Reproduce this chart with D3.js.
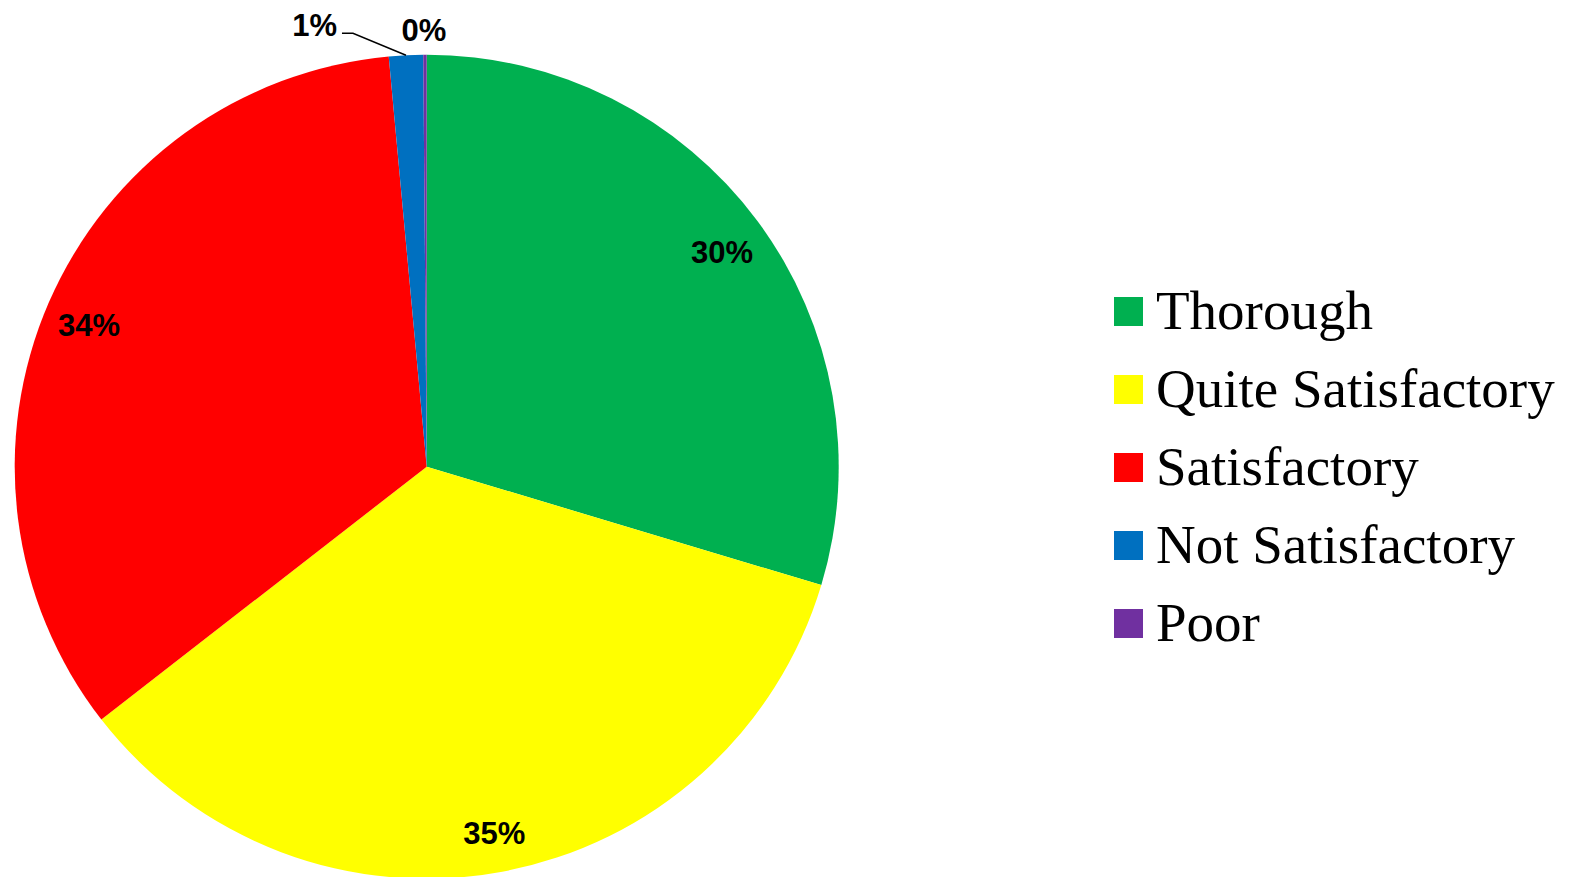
<!DOCTYPE html>
<html>
<head>
<meta charset="utf-8">
<script src="https://cdn.jsdelivr.net/npm/d3@7"></script>
<style>
  body { margin: 0; background: #fff; }
  svg { display: block; }
</style>
</head>
<body>
<svg id="chart"></svg>
<script>
/* Data */

var categories = ["Thorough", "Quite Satisfactory", "Satisfactory", "Not Satisfactory", "Poor"];
var counts     = [222, 261, 255, 10, 1];
var colours    = ["#00B050", "#FFFF00", "#FF0000", "#0070C0", "#7030A0"];

/* Measures */

var W = 1579,
    H = 877;

var CENTER       = { x: 426.7, y: 466.7 }
   ,RADIUS       = 412
   ,LABEL_RADIUS = 368
   ,LABEL_FONT   = 31
   ,LEGEND       = { left: 1114, top: 297, box: 29, lineheight: 78, textgap: 13, font: 55 };

var svg = d3.select("#chart").attr("width", W).attr("height", H);

var total = d3.sum(counts);
var slices = counts.map(function(v, i) {
	return { name: categories[i], value: v, colour: colours[i] };
});

var pie = d3.pie()
	.sort(null)
	.value(function(d) { return d.value; });

var arc = d3.arc().innerRadius(0).outerRadius(RADIUS);
var labelArc = d3.arc().innerRadius(LABEL_RADIUS).outerRadius(LABEL_RADIUS);

var g = svg.append("g")
	.attr("transform", "translate(" + CENTER.x + "," + CENTER.y + ")");

var arcs = pie(slices);

g.selectAll("path.slice")
	.data(arcs)
	.enter().append("path")
	.attr("class", "slice")
	.attr("d", arc)
	.attr("fill", function(d) { return d.data.colour; });

function pct(d) {
	return Math.round(d.data.value / total * 100) + "%";
}

// big slices get their label inside, small ones outside
var inside = arcs.filter(function(d) { return d.data.value / total > 0.05; });
var outside = arcs.filter(function(d) { return d.data.value / total <= 0.05; });

g.selectAll("text.inlabel")
	.data(inside)
	.enter().append("text")
	.attr("class", "inlabel")
	.attr("transform", function(d) { return "translate(" + labelArc.centroid(d) + ")"; })
	.attr("text-anchor", "middle")
	.attr("dy", "0.5em")
	.style("font-family", "'Liberation Sans', Arial, sans-serif")
	.style("font-weight", "bold")
	.style("font-size", LABEL_FONT + "px")
	.text(pct);

// edge point of a slice, at its middle angle
function edge(d, r) {
	var a = (d.startAngle + d.endAngle) / 2;
	return [r * Math.sin(a), -r * Math.cos(a)];
}

outside.forEach(function(d, i) {
	var p = edge(d, RADIUS);
	if (i === 0) {
		// leader line: out to an elbow, then a short level run
		var elbow = [p[0] - 53, p[1] - 22];
		var end = [elbow[0] - 11, elbow[1]];
		g.append("polyline")
			.attr("points", [p, elbow, end].map(String).join(" "))
			.attr("fill", "none")
			.attr("stroke", "#000")
			.attr("stroke-width", 1.5);
		g.append("text")
			.attr("x", end[0] - 5)
			.attr("y", end[1] - 8)
			.attr("text-anchor", "end")
			.attr("dy", "0.36em")
			.style("font-family", "'Liberation Sans', Arial, sans-serif")
			.style("font-weight", "bold")
			.style("font-size", LABEL_FONT + "px")
			.text(pct(d));
	} else {
		var q = edge(d, RADIUS + 25);
		g.append("text")
			.attr("x", q[0] - 1)
			.attr("y", q[1])
			.attr("text-anchor", "middle")
			.attr("dy", "0.36em")
			.style("font-family", "'Liberation Sans', Arial, sans-serif")
			.style("font-weight", "bold")
			.style("font-size", LABEL_FONT + "px")
			.text(pct(d));
	}
});

/* Legend */

var legend = svg.append("g")
	.attr("transform", "translate(" + LEGEND.left + "," + LEGEND.top + ")");

var item = legend.selectAll("g.item")
	.data(slices)
	.enter().append("g")
	.attr("class", "item")
	.attr("transform", function(d, i) { return "translate(0," + i * LEGEND.lineheight + ")"; });

item.append("rect")
	.attr("width", LEGEND.box)
	.attr("height", LEGEND.box)
	.attr("fill", function(d) { return d.colour; });

item.append("text")
	.attr("x", LEGEND.box + LEGEND.textgap)
	.attr("y", LEGEND.box / 2 + 17)
	.style("font-family", "'Liberation Serif', 'Times New Roman', serif")
	.style("font-size", LEGEND.font + "px")
	.text(function(d) { return d.name; });
</script>
</body>
</html>
